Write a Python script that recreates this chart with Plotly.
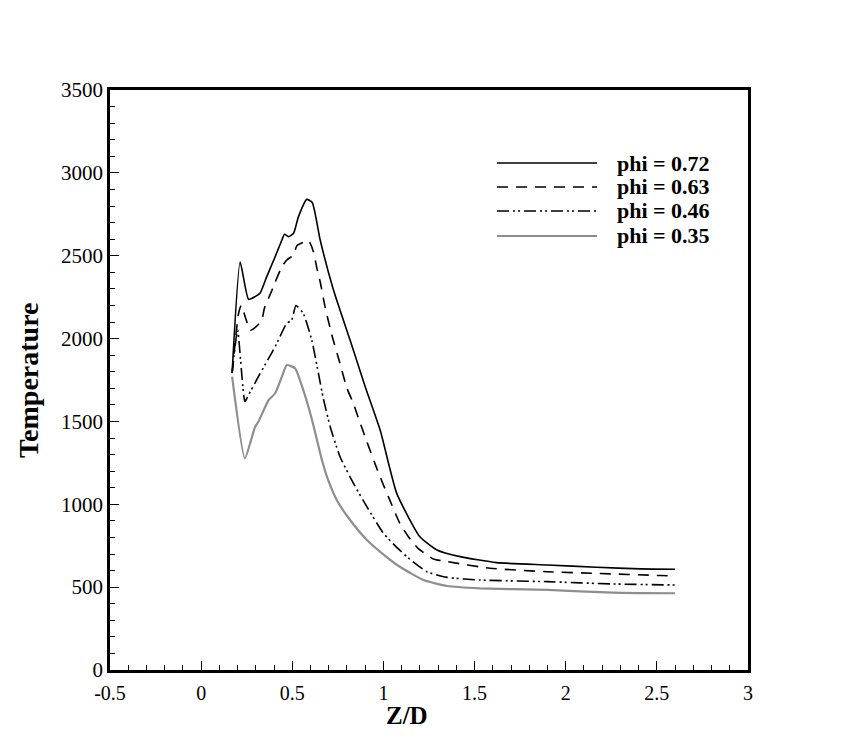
import plotly.graph_objects as go

# ---- data ----
x_072 = [0.17, 0.214, 0.26, 0.296, 0.324, 0.36, 0.406, 0.443, 0.457, 0.479, 0.507, 0.534, 0.58, 0.61,
         0.653, 0.726, 0.817, 0.9, 0.982, 1.073, 1.2, 1.293, 1.42, 1.62, 1.9, 2.17, 2.41, 2.6]
T_072 = [1792, 2462, 2237, 2253, 2275, 2374, 2494, 2595, 2629, 2615, 2635, 2736, 2840, 2820,
         2595, 2293, 1991, 1710, 1448, 1066, 804, 724, 684, 648, 634, 620, 610, 608]

x_063 = [0.17, 0.205, 0.22, 0.245, 0.27, 0.3, 0.333, 0.347, 0.388, 0.406, 0.443, 0.47, 0.506, 0.525,
         0.56, 0.59, 0.616, 0.635, 0.653, 0.68, 0.717, 0.759, 0.8, 0.835, 0.857, 0.909, 0.967, 1.0,
         1.027, 1.09, 1.137, 1.19, 1.274, 1.35, 1.585, 1.9, 2.17, 2.52, 2.6]
T_063 = [1792, 2150, 2200, 2120, 2050, 2070, 2112, 2183, 2290, 2340, 2434, 2474, 2504, 2560,
         2580, 2590, 2524, 2424, 2343, 2190, 2022, 1860, 1700, 1609, 1539, 1378, 1207, 1116,
         1046, 885, 804, 734, 670, 654, 614, 593, 583, 570, 568]

x_046 = [0.17, 0.2, 0.24, 0.26, 0.314, 0.37, 0.406, 0.47, 0.497, 0.52, 0.56, 0.607, 0.67, 0.708,
         0.762, 0.835, 0.909, 1.0, 1.073, 1.128, 1.238, 1.35, 1.53, 1.9, 2.26, 2.6]
T_046 = [1792, 2050, 1620, 1660, 1770, 1880, 1951, 2092, 2112, 2200, 2152, 1990, 1640, 1468,
         1287, 1127, 986, 825, 740, 684, 593, 559, 543, 533, 519, 513]

x_035 = [0.17, 0.24, 0.296, 0.314, 0.37, 0.406, 0.443, 0.47, 0.516, 0.56, 0.607, 0.635, 0.662,
         0.69, 0.744, 0.817, 0.909, 1.02, 1.09, 1.22, 1.35, 1.53, 1.9, 2.26, 2.6]
T_035 = [1770, 1277, 1468, 1498, 1629, 1670, 1770, 1840, 1820, 1690, 1515, 1390, 1270,
         1167, 1026, 905, 785, 680, 623, 543, 507, 493, 483, 467, 463]

labels = ["phi = 0.72", "phi = 0.63", "phi = 0.46", "phi = 0.35"]
x_ticks = [-0.5, 0, 0.5, 1, 1.5, 2, 2.5, 3]
x_tick_text = ["-0.5", "0", "0.5", "1", "1.5", "2", "2.5", "3"]
y_ticks = [0, 500, 1000, 1500, 2000, 2500, 3000, 3500]

styles = [
    dict(color="black", width=1.6, dash="solid"),
    dict(color="black", width=1.6, dash="11px,8px"),
    dict(color="black", width=1.6, dash="12px,4px,2px,3px,2px,4px"),
    dict(color="#8e8e8e", width=2.2, dash="solid"),
]

fig = go.Figure()
for xs, ys, lab, st in zip([x_072, x_063, x_046, x_035], [T_072, T_063, T_046, T_035], labels, styles):
    fig.add_trace(go.Scatter(x=xs, y=ys, mode="lines", name=lab,
                             line=dict(shape="spline", smoothing=0.5, **st), showlegend=False))

serif = "Liberation Serif, Times New Roman, serif"
axis_common = dict(
    showgrid=False, zeroline=False, showline=True, linecolor="black", linewidth=2.5,
    mirror=True, ticks="inside", ticklen=9, tickwidth=1, tickcolor="black",
)
fig.update_xaxes(range=[-0.5, 3], tickvals=x_ticks, ticktext=x_tick_text,
                 tickfont=dict(family=serif, size=20, color="black"), ticklabelstandoff=3,
                 minor=dict(dtick=0.1, ticks="inside", ticklen=5, tickcolor="black", tickwidth=1),
                 **axis_common)
fig.update_yaxes(range=[0, 3500], tickvals=y_ticks,
                 tickfont=dict(family=serif, size=21, color="black"),
                 minor=dict(dtick=100, ticks="inside", ticklen=5, tickcolor="black", tickwidth=1),
                 **axis_common)

# axis titles
fig.add_annotation(text="<b>Z/D</b>", xref="paper", yref="paper", x=0.4655, y=-0.0776,
                   xanchor="center", yanchor="middle", showarrow=False,
                   font=dict(family=serif, size=25, color="black"))
fig.add_annotation(text="<b>Temperature</b>", xref="paper", yref="paper", x=-0.1285, y=0.5,
                   xanchor="center", yanchor="middle", textangle=-90, showarrow=False,
                   font=dict(family=serif, size=28, color="black"))

# legend (drawn manually)
leg_x0, leg_x1, leg_tx = 0.6066, 0.7633, 0.7915
leg_rows = [0.8741, 0.8328, 0.7914, 0.7483]
for lab, st, yy in zip(labels, styles, leg_rows):
    fig.add_shape(type="line", xref="paper", yref="paper", x0=leg_x0, x1=leg_x1, y0=yy, y1=yy,
                  line=dict(color=st["color"], width=st["width"], dash=st["dash"]))
    fig.add_annotation(text="<b>" + lab + "</b>", xref="paper", yref="paper", x=leg_tx, y=yy,
                       xanchor="left", yanchor="middle", showarrow=False,
                       font=dict(family=serif, size=22, color="black"))

fig.update_layout(
    width=850, height=756,
    margin=dict(l=110, r=102, t=90, b=86),
    plot_bgcolor="white", paper_bgcolor="white",
    showlegend=False,
)

fig.write_html("out.html")
